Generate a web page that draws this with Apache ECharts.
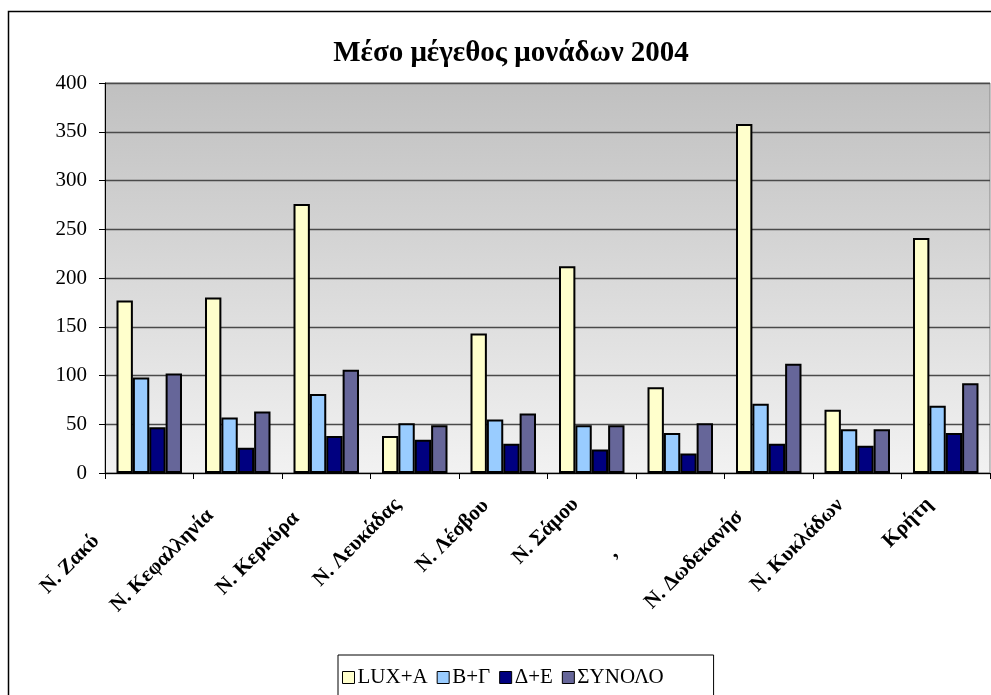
<!DOCTYPE html>
<html>
<head>
<meta charset="utf-8">
<script src="https://cdn.jsdelivr.net/npm/echarts@6/dist/echarts.min.js"></script>
<style>
html, body { margin: 0; padding: 0; background: #fff; }
#main { width: 991px; height: 695px; }
</style>
</head>
<body>
<div id="main"></div>
<script>
// data
var categories = ['Ν. Ζακύ', 'Ν. Κεφαλληνία', 'Ν. Κερκύρα', 'Ν. Λευκάδας', 'Ν. Λέσβου',
    'Ν. Σάμου', ',', 'Ν. Δωδεκανήσ', 'Ν. Κυκλάδων', 'Κρήτη'];
var luxA = [177, 180, 276, 38, 143, 212, 88, 358, 65, 241];
var bG = [98, 57, 81, 51, 55, 49, 41, 71, 45, 69];
var dE = [47, 26, 38, 34, 30, 24, 20, 30, 28, 41];
var synolo = [102, 63, 106, 49, 61, 49, 51, 112, 45, 92];
var yTicks = [0, 50, 100, 150, 200, 250, 300, 350, 400];

// shift of each rotated label along its baseline (style only)
var labelShift = [75, 39, 43, 24, 25, 23, 93, 41, 24, 23];

var rich = {};
labelShift.forEach(function (s, i) {
    rich['p' + i] = {
        padding: [0, s, 0, 0],
        fontFamily: 'Liberation Serif',
        fontWeight: 'bold',
        fontSize: 21,
        color: '#000'
    };
});

var mychart = echarts.init(document.getElementById('main'));
var serif = 'Liberation Serif';

function barSeries(name, data, color) {
    return {
        name: name,
        type: 'bar',
        data: data,
        barGap: '0%',
        barCategoryGap: '26%',
        itemStyle: { color: color, borderColor: '#000', borderWidth: 2 }
    };
}

var option = {
    animation: false,
    backgroundColor: '#fff',
    title: {
        text: 'Μέσο μέγεθος μονάδων 2004',
        left: 506,
        top: 34,
        textAlign: 'center',
        textStyle: { fontFamily: serif, fontWeight: 'bold', fontSize: 29, color: '#000' }
    },
    graphic: [{
        type: 'rect',
        z: -1,
        shape: { x: 8.5, y: 11.5, width: 1200, height: 900 },
        style: { fill: 'none', stroke: '#000', lineWidth: 1.5 }
    }],
    legend: {
        left: 338,
        top: 655,
        padding: [12, 50, 18, 4],
        borderColor: '#000',
        borderWidth: 1,
        itemGap: 9,
        itemWidth: 12,
        itemHeight: 12,
        icon: 'rect',
        itemStyle: { borderColor: '#000', borderWidth: 1 },
        textStyle: { fontFamily: serif, fontSize: 21, color: '#000', padding: [0, 0, 0, -2] }
    },
    grid: {
        left: 105,
        right: 1,
        top: 83,
        bottom: 222,
        show: true,
        borderColor: '#888',
        borderWidth: 1,
        backgroundColor: new echarts.graphic.LinearGradient(0, 0, 0, 1, [
            { offset: 0, color: '#c0c0c0' },
            { offset: 1, color: '#f2f2f2' }
        ])
    },
    xAxis: {
        type: 'category',
        data: categories,
        axisLine: { lineStyle: { color: '#000', width: 1 } },
        axisTick: { show: true, length: 6, lineStyle: { color: '#000' } },
        axisLabel: {
            rotate: 45,
            interval: 0,
            margin: 12,
            formatter: function (v, i) { return '{p' + i + '|' + v + '}'; },
            rich: rich
        }
    },
    yAxis: {
        type: 'value',
        min: yTicks[0],
        max: yTicks[yTicks.length - 1],
        interval: 50,
        axisLine: { show: true, lineStyle: { color: '#000', width: 1 } },
        axisTick: { show: true, length: 6, lineStyle: { color: '#000' } },
        axisLabel: { fontFamily: serif, fontSize: 21, color: '#000', margin: 18 },
        splitLine: { lineStyle: { color: '#4a4a4a', width: 1.3 } }
    },
    series: [
        barSeries('LUX+A', luxA, '#ffffcc'),
        barSeries('B+Γ', bG, '#99ccff'),
        barSeries('Δ+Ε', dE, '#000080'),
        barSeries('ΣΥΝΟΛΟ', synolo, '#666699')
    ]
};
mychart.setOption(option);
</script>
</body>
</html>
